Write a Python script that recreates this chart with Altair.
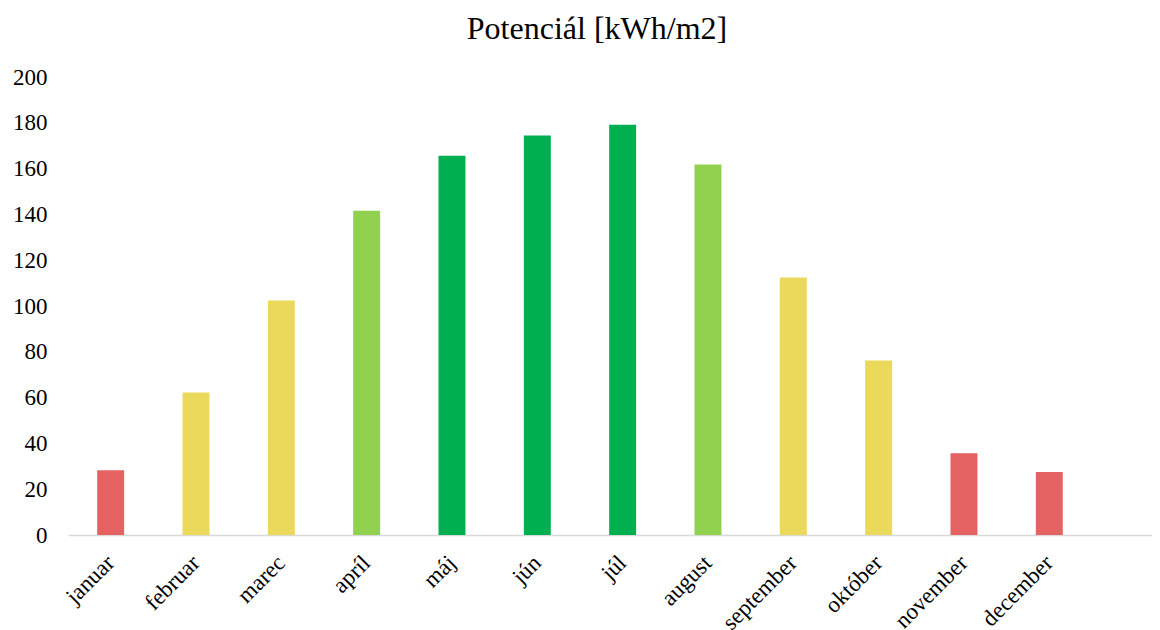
import altair as alt
import pandas as pd

months = ["januar", "februar", "marec", "apríl", "máj", "jún", "júl", "august",
          "september", "október", "november", "december"]
values = [28.3, 62.2, 102.4, 141.6, 165.6, 174.5, 179.2, 161.8, 112.5, 76.2, 35.7, 27.5]
classes = ["low", "mid", "mid", "high", "top", "top", "top", "high", "mid", "mid", "low", "low"]
class_order = ["low", "mid", "high", "top"]
class_colors = ["#E46362", "#EAD95B", "#92D050", "#00B050"]
y_ticks = [0, 20, 40, 60, 80, 100, 120, 140, 160, 180, 200]

df = pd.DataFrame({"month": months, "value": values, "cls": classes})

FONT = "Liberation Serif"
step = 85.33
x_domain = months + [""]

chart = alt.Chart(df).mark_bar().encode(
    x=alt.X("month:N", sort=None,
            scale=alt.Scale(domain=x_domain, paddingInner=0.684, paddingOuter=0.342,
                            range=[0, step * 13]),
            axis=alt.Axis(title=None, labelAngle=-45, labelAlign="right",
                          labelBaseline="middle", labelPadding=24, ticks=False,
                          domainColor="#D9D9D9", domainWidth=1.5,
                          labelFont=FONT, labelFontSize=23, labelColor="#000000",
                          grid=False)),
    y=alt.Y("value:Q", scale=alt.Scale(domain=[0, 200], nice=False),
            axis=alt.Axis(title=None, values=y_ticks, domain=False, ticks=False,
                          grid=False, labelPadding=21, labelFont=FONT,
                          labelFontSize=23, labelColor="#000000")),
    color=alt.Color("cls:N", scale=alt.Scale(domain=class_order, range=class_colors),
                    legend=None),
).properties(
    width=1084,
    height=458,
    title=alt.TitleParams("Potenciál [kWh/m2]", font=FONT, fontSize=32,
                          fontWeight="normal", color="#000000", anchor="middle",
                          dx=-13, offset=20),
    autosize=alt.AutoSizeParams(type="none"),
    padding={"left": 60, "top": 69, "right": 0, "bottom": 95},
).configure_view(stroke=None)

chart.save("out.html", embed_options={"renderer": "svg", "actions": False})
